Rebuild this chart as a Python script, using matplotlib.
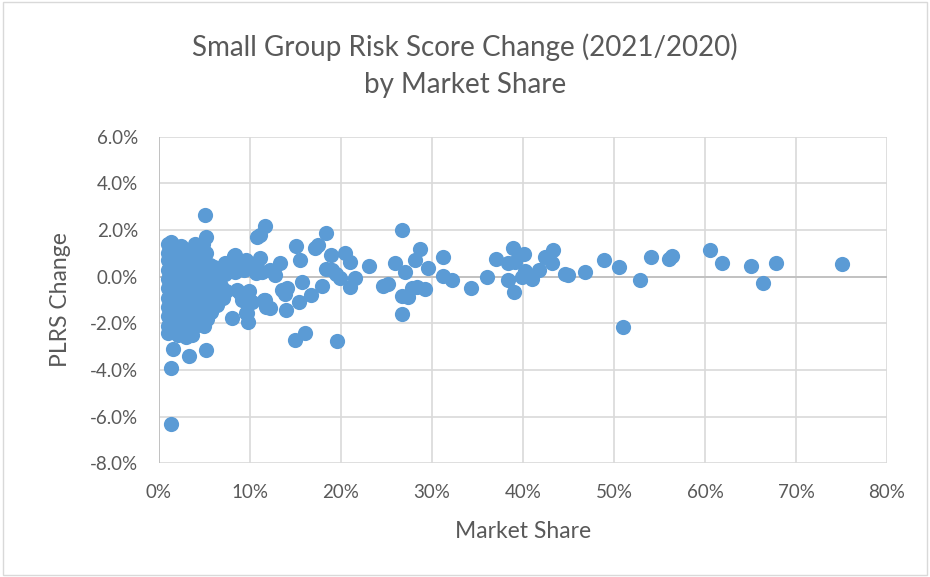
import matplotlib
matplotlib.use('Agg')
import matplotlib.pyplot as plt
from matplotlib.ticker import FuncFormatter
from matplotlib.patches import Rectangle

plt.rcParams['font.family'] = ['Lato', 'DejaVu Sans']

# market share (%) and PLRS change (%)
share_small = [1.0, 1.0, 1.0, 1.0, 1.0, 1.0, 1.0, 1.0, 1.0, 1.0, 1.0,
               1.3, 1.3, 1.3, 1.3, 1.3, 1.3, 1.3, 1.3, 1.3, 1.3, 1.3,
               1.5, 1.5, 1.5, 1.5, 1.5, 1.5, 1.5,
               1.8, 1.8, 1.8, 1.8, 1.8, 1.8,
               2.1, 2.1, 2.1, 2.1, 2.1,
               2.4, 2.4, 2.4, 2.4, 2.4,
               2.7, 2.7, 2.7, 2.7, 2.7,
               3.0, 3.0, 3.0, 3.0, 3.0,
               3.3, 3.3, 3.3, 3.3, 3.3,
               3.6, 3.6, 3.6, 3.6, 3.6,
               4.0, 4.0, 4.0, 4.0, 4.0, 4.0,
               4.4, 4.4, 4.4, 4.4, 4.4,
               4.8, 4.8, 4.8, 4.8, 4.8, 4.9,
               5.0, 5.2, 5.2, 5.2, 5.2, 5.2, 5.3, 5.2,
               5.6, 5.6, 5.6, 5.7,
               6.0, 6.0, 6.2, 6.4,
               6.6, 6.8, 7.0, 7.2, 7.4, 7.3,
               7.8, 8.0, 8.2, 8.4, 8.3, 8.6, 8.9, 9.1, 9.0, 9.3,
               9.6, 9.6, 9.7, 9.8, 9.9, 10.2, 10.5, 10.7, 10.8, 11.1, 11.1,
               11.5, 11.6, 11.6, 11.8, 11.3]
change_small = [1.4, 1.0, 0.7, 0.3, -0.1, -0.5, -0.9, -1.3, -1.7, -2.1, -2.4,
                1.5, 1.1, 0.6, 0.2, -0.3, -0.8, -1.2, -1.6, -2.0, -3.9, -6.3,
                1.2, 0.8, 0.4, -0.4, -1.0, -1.8, -3.1,
                1.3, 0.5, -0.2, -0.6, -1.4, -2.2,
                1.0, 0.1, -0.9, -1.6, -2.5,
                1.3, 0.7, -0.3, -1.2, -2.0,
                1.2, 0.4, -0.6, -1.5, -2.3,
                0.9, 0.0, -1.0, -1.9, -2.6,
                1.1, 0.3, -0.5, -1.3, -3.4,
                0.6, -0.2, -0.9, -1.7, -2.5,
                1.4, 0.9, 0.1, -0.7, -1.4, -2.1,
                1.2, 0.5, -0.3, -1.1, -1.8,
                1.4, 0.7, -0.1, -0.9, -1.5, -2.1,
                2.64, 1.69, 1.0, 0.2, -0.5, -1.2, -1.8, -3.14,
                0.5, -0.3, -1.0, -1.5,
                0.4, -0.1, -0.7, -1.2,
                0.3, -0.4, -0.9, 0.1, -0.6, 0.6,
                0.5, -1.79, 0.9, 0.93, 0.2, -0.57, -0.7, -1.0, 0.6, 0.3,
                0.72, -1.57, -1.56, -1.93, -0.6, -1.1, 0.4, 0.14, 1.71, 0.79, 1.8,
                -1.0, 2.17, -1.0, -1.29, 0.2]

share_large = [12.2, 12.7, 13.3, 12.2, 13.5, 14.1, 13.8, 15.1, 15.5, 15.7,
               14.0, 15.4, 16.7, 17.9, 17.1, 17.5, 18.3, 18.9, 18.3, 19.0,
               19.5, 19.9, 20.4, 21.0, 21.5, 21.0, 14.9, 16.0, 19.6, 23.1,
               24.6, 25.2, 25.9, 26.7, 27.0, 26.7, 27.4, 26.7, 28.1, 28.7,
               27.8, 28.3, 29.2, 29.6, 31.2, 31.2, 32.2, 34.3, 36.0, 37.0,
               38.9, 38.4, 39.1, 40.1, 38.4, 39.0, 39.9, 40.2, 41.0, 41.8,
               42.4, 43.3, 43.2, 44.6, 44.9, 46.8, 48.9, 50.5, 51.0, 52.9,
               54.1, 56.0, 56.4, 60.6, 61.9, 65.1, 66.4, 67.8, 75.1]
change_large = [0.3, 0.07, 0.57, -1.34, -0.57, -0.5, -0.75, 1.32, 0.72, -0.21,
                -1.43, -1.07, -0.78, -0.40, 1.22, 1.36, 1.86, 0.93, 0.33, 0.29,
                0.12, -0.07, 1.00, 0.64, -0.04, -0.46, -2.71, -2.40, -2.76, 0.46,
                -0.40, -0.33, 0.57, 2.00, 0.21, -0.83, -0.86, -1.61, 0.72, 1.17,
                -0.50, -0.46, -0.54, 0.36, 0.83, 0.03, -0.14, -0.50, -0.03, 0.74,
                1.24, 0.57, 0.64, 0.97, -0.14, -0.67, 0.0, 0.24, -0.10, 0.29,
                0.86, 1.14, 0.57, 0.12, 0.07, 0.19, 0.72, 0.43, -2.14, -0.14,
                0.86, 0.76, 0.90, 1.14, 0.57, 0.47, -0.26, 0.57, 0.53]

x_vals = [v / 100 for v in share_small + share_large]
y_vals = [v / 100 for v in change_small + change_large]

x_ticks = [0.0, 0.1, 0.2, 0.3, 0.4, 0.5, 0.6, 0.7, 0.8]
y_ticks = [-0.08, -0.06, -0.04, -0.02, 0.0, 0.02, 0.04, 0.06]

text_color = '#595959'
grid_color = '#D9D9D9'

fig = plt.figure(figsize=(9.3, 5.77), dpi=100)
ax = fig.add_axes([159 / 930, 1 - 463.3 / 577, (887 - 159) / 930, (463.3 - 136.7) / 577])

ax.set_xlim(0, 0.8)
ax.set_ylim(-0.08, 0.06)
ax.set_xticks(x_ticks)
ax.set_yticks(y_ticks)
ax.xaxis.set_major_formatter(FuncFormatter(lambda v, p: f'{v * 100:.0f}%'))
ax.yaxis.set_major_formatter(FuncFormatter(lambda v, p: f'{v * 100:.1f}%'))
ax.grid(True, color=grid_color, linewidth=1.2)
ax.set_axisbelow(True)
for s in ax.spines.values():
    s.set_visible(False)
ax.axhline(0, color='#BFBFBF', linewidth=1.3, zorder=1)
ax.axvline(0, color='#BFBFBF', linewidth=1.3, zorder=1)
ax.tick_params(length=0, labelsize=13.5, labelcolor=text_color)
ax.tick_params(axis='x', pad=15)
ax.tick_params(axis='y', pad=15)

ax.scatter(x_vals, y_vals, s=120, color='#5B9BD5', linewidths=0, zorder=3, clip_on=False)

ax.set_xlabel('Market Share', fontsize=16.5, color=text_color, labelpad=14)
ax.set_ylabel('PLRS Change', fontsize=16.5, color=text_color, labelpad=14)

fig.text(0.5, 1 - 47 / 577, 'Small Group Risk Score Change (2021/2020)', ha='center', va='center',
         fontsize=20, color=text_color)
fig.text(0.5, 1 - 85 / 577, 'by Market Share', ha='center', va='center',
         fontsize=20, color=text_color)

fig.patches.append(Rectangle((0.003, 0.003), 0.994, 0.994, transform=fig.transFigure,
                             fill=False, edgecolor='#D9D9D9', linewidth=1))

fig.savefig('out.png', dpi=100)
